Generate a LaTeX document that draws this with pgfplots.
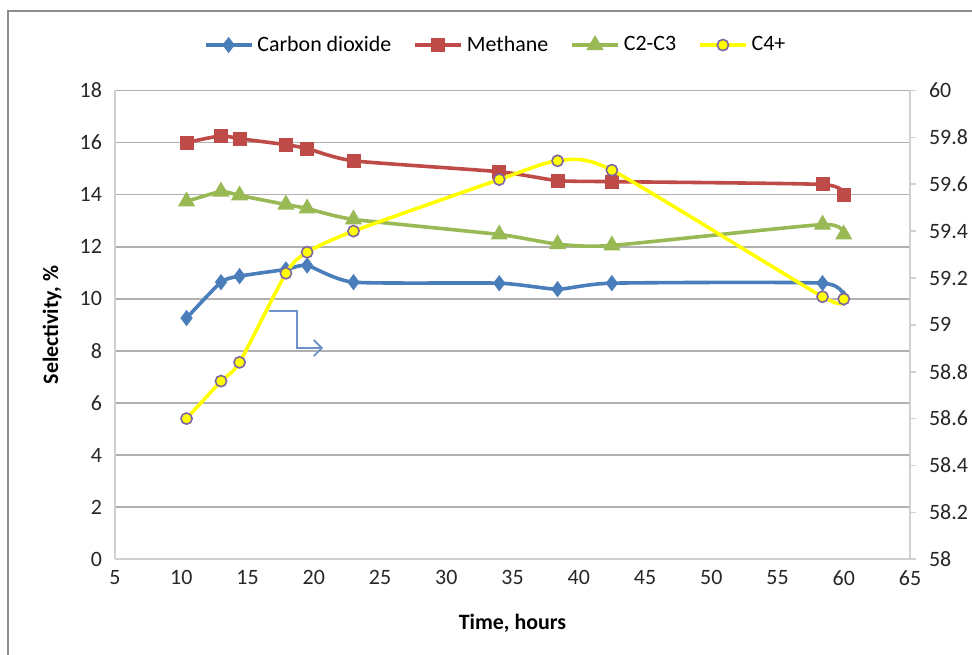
\documentclass[border=0pt]{standalone}
\usepackage{fontspec}
\setmainfont{Carlito}
\usepackage{pgfplots}
\pgfplotsset{compat=1.18}
\usetikzlibrary{arrows.meta}
\definecolor{cblue}{HTML}{4A7EBB}
\definecolor{cred}{HTML}{BE4B48}
\definecolor{cgreen}{HTML}{98B954}
\definecolor{cyel}{HTML}{FFFF00}
\definecolor{cpurp}{HTML}{7F64A2}
\definecolor{gridc}{HTML}{B0B0B0}
\definecolor{axc}{HTML}{D0D0D0}
\definecolor{arrc}{HTML}{6F93C9}
\begin{document}
\begin{tikzpicture}
\useasboundingbox (-57.5bp,-47.9bp) rectangle (428.5bp,279.6bp);
\draw[black!45, line width=1bp] (-53.5bp,-48bp) -- (-53.5bp,274.1bp) -- (429bp,274.1bp);
\begin{axis}[
  at={(0,0)}, anchor=south west,
  scale only axis, width=397.5bp, height=234.35bp,
  xmin=5, xmax=65, ymin=0, ymax=18,
  xtick={5,10,...,65}, ytick={0,2,...,18},
  axis lines*=left,
  axis line style={draw=axc, line width=0.8bp},
  major tick length=0pt,
  ymajorgrids, major grid style={draw=gridc, line width=0.8bp},
  /pgf/number format/assume math mode=true,
  ticklabel style={font=\fontsize{11}{13}\selectfont, text=black!85},
  yticklabel style={xshift=-3bp},
  xticklabel style={yshift=-2bp},
  xlabel={\bfseries Time, hours},
  ylabel={\bfseries Selectivity, \%},
  label style={font=\fontsize{11}{13}\selectfont},
  xlabel style={at={(axis description cs:0.5,-0.137)}, anchor=center},
  ylabel style={at={(axis description cs:-0.079,0.5)}, anchor=center},
  legend style={at={(axis description cs:0.48,1.097)}, anchor=center, draw=none, fill=none,
    legend columns=-1, font=\fontsize{11}{13}\selectfont,
    /tikz/every even column/.append style={column sep=9bp},
    inner sep=0pt},
  legend cell align=left,
  legend image code/.code={\draw[mark repeat=2,mark phase=2] plot coordinates {(0bp,0bp)(11.5bp,0bp)(23bp,0bp)};},
  clip=false,
]
\addplot[cblue, line width=1.8bp, smooth, tension=0.35, mark=diamond*, mark size=2.6bp, mark options={solid, fill=cblue, draw=cblue}]
  coordinates {(10.4,9.26)(13,10.64)(14.4,10.87)(17.9,11.13)(19.5,11.28)(23,10.64)(34,10.6)(38.4,10.37)(42.5,10.6)(58.4,10.6)(60,10.03)};
\addlegendentry{Carbon dioxide}
\addplot[cred, line width=1.8bp, smooth, tension=0.35, mark=square*, mark size=2.6bp, mark options={solid, fill=cred, draw=cred}]
  coordinates {(10.4,16.0)(13,16.26)(14.4,16.15)(17.9,15.92)(19.5,15.77)(23,15.3)(34,14.88)(38.4,14.54)(42.5,14.5)(58.4,14.39)(60,14.0)};
\addlegendentry{Methane}
\addplot[cgreen, line width=1.8bp, smooth, tension=0.35, mark=triangle*, mark size=3.2bp, mark options={solid, fill=cgreen, draw=cgreen}]
  coordinates {(10.4,13.74)(13,14.12)(14.4,13.97)(17.9,13.62)(19.5,13.47)(23,13.05)(34,12.47)(38.4,12.1)(42.5,12.05)(58.4,12.85)(60,12.47)};
\addlegendentry{C2-C3}
\addlegendimage{cyel, line width=1.8bp, mark=*, mark size=2.8bp, mark options={solid, fill=cyel, draw=cpurp, line width=0.8bp}}
\addlegendentry{C4+}
\draw[arrc, line width=0.9bp, -{Straight Barb[length=4bp, width=8bp]}]
  (axis cs:16.62,9.53) -- (axis cs:18.74,9.53) -- (axis cs:18.74,8.11) -- (axis cs:20.7,8.11);
\end{axis}
\begin{axis}[
  at={(0,0)}, anchor=south west,
  scale only axis, width=397.5bp, height=234.35bp,
  xmin=5, xmax=65, ymin=58, ymax=60,
  ytick={58,58.2,...,60.01},
  axis x line=none,
  axis y line*=right,
  axis line style={draw=axc, line width=0.8bp},
  tick align=outside,
  major tick length=3bp,
  tick style={draw=axc, line width=0.8bp},
  /pgf/number format/assume math mode=true,
  /pgf/number format/.cd, fixed, precision=1, /pgfplots/.cd,
  ticklabel style={font=\fontsize{11}{13}\selectfont, text=black!85},
  yticklabel style={xshift=3bp},
]
\addplot[cyel, line width=1.8bp, smooth, tension=0.4, mark=*, mark size=2.8bp, mark options={solid, fill=cyel, draw=cpurp, line width=0.8bp}]
  coordinates {(10.4,58.60)(13,58.76)(14.4,58.84)(17.9,59.22)(19.5,59.31)(23,59.40)(34,59.62)(38.4,59.70)(42.5,59.66)(58.4,59.12)(60,59.11)};
\end{axis}
\end{tikzpicture}
\end{document}
